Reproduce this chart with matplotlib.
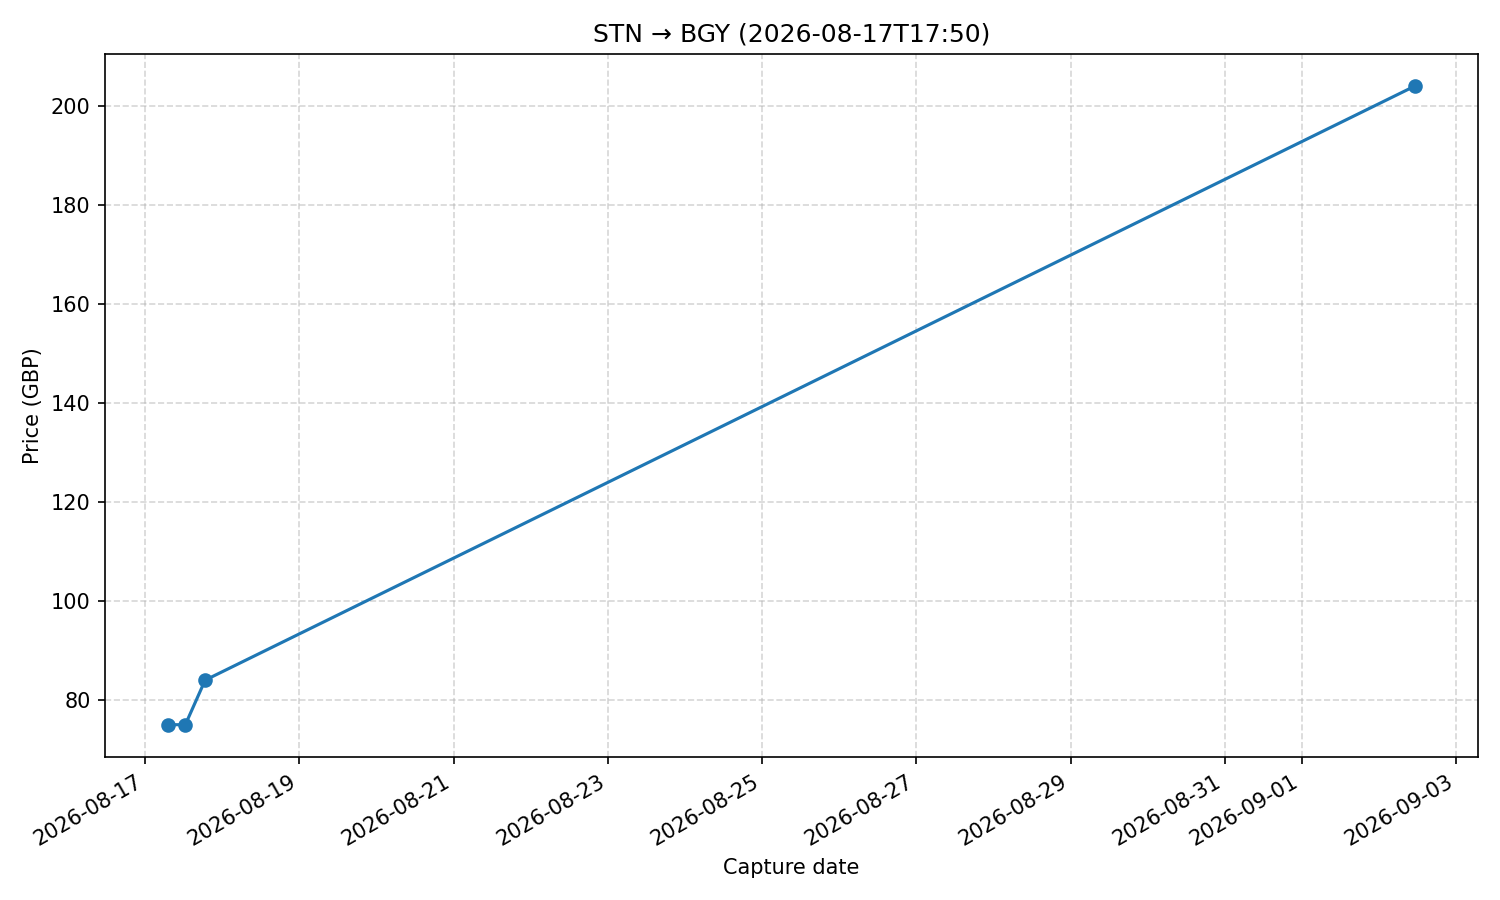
import matplotlib
matplotlib.use("Agg")
import matplotlib.pyplot as plt
import pandas as pd

# capture times and prices
capture_times = ["2026-08-17 07:00", "2026-08-17 12:30", "2026-08-17 18:40", "2026-09-02 11:15"]
prices = [75, 75, 84, 204]

dates = pd.to_datetime(capture_times)

fig, ax = plt.subplots(figsize=(10, 6), dpi=150)
ax.plot(dates, prices, marker="o")
ax.set_title("STN → BGY (2026-08-17T17:50)")
ax.set_xlabel("Capture date")
ax.set_ylabel("Price (GBP)")
ax.grid(True, linestyle="--", alpha=0.5)
fig.autofmt_xdate()
fig.tight_layout()
fig.savefig("out.png", dpi=150)
